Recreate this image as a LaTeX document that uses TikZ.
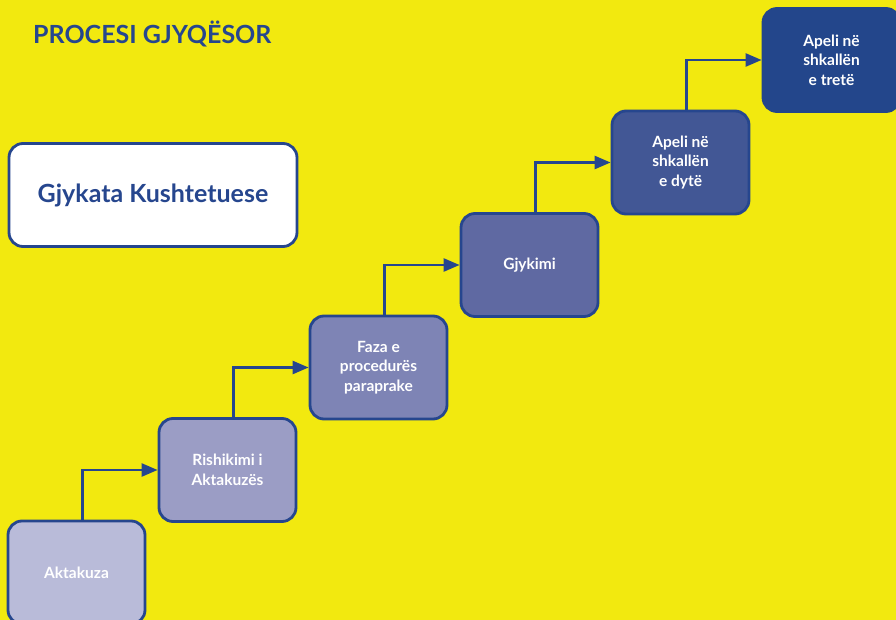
\documentclass[tikz,border=0pt]{standalone}
\usepackage{fontspec}
\setmainfont{Lato}
\usetikzlibrary{arrows.meta}
\definecolor{bgyellow}{HTML}{F2E90F}
\definecolor{darkblue}{HTML}{26468E}
\definecolor{stepa}{HTML}{B9BBD9}
\definecolor{stepb}{HTML}{9B9DC5}
\definecolor{stepc}{HTML}{7E84B5}
\definecolor{stepd}{HTML}{5F69A2}
\definecolor{stepe}{HTML}{425795}
\definecolor{stepf}{HTML}{23468B}
\tikzset{
  stagebox/.style={draw=darkblue,line width=2.8pt,rounded corners=14pt,
    minimum width=137pt,minimum height=103pt,align=center,
    text=white,font=\bfseries\fontsize{15.5}{19.5}\selectfont},
  flow/.style={draw=darkblue,line width=2.5pt,
    -{Triangle[length=16pt,width=13pt]}}
}
\begin{document}
\begin{tikzpicture}[x=1pt,y=-1pt]
\pgfmathsetmacro{\dx}{151}
\pgfmathsetmacro{\dy}{102.5}
\useasboundingbox (0,0) rectangle (896,620);
\clip (0,0) rectangle (896,620);
\fill[bgyellow](0,0)rectangle(896,620);
\node[anchor=base west,inner sep=0pt,text=darkblue,font=\bfseries\fontsize{25}{30}\selectfont]
  (title) at (33,44) {PROCESI GJYQËSOR};
\node[stagebox,fill=white,text=darkblue,minimum width=288pt,
  font=\bfseries\fontsize{25}{30}\selectfont] (gjykata) at (153,195) {Gjykata Kushtetuese};
\node[stagebox,fill=stepa] (aktakuza) at (76.5,572.5) {Aktakuza};
\node[stagebox,fill=stepb] (rishikimi) at (76.5+\dx,572.5-\dy) {Rishikimi i\\Aktakuzës};
\node[stagebox,fill=stepc] (faza) at (76.5+2*\dx,572.5-2*\dy) {Faza e\\procedurës\\paraprake};
\node[stagebox,fill=stepd] (gjykimi) at (76.5+3*\dx,572.5-3*\dy) {Gjykimi};
\node[stagebox,fill=stepe] (apelidyte) at (76.5+4*\dx,572.5-4*\dy) {Apeli në\\shkallën\\e dytë};
\node[stagebox,fill=stepf,draw=stepf] (apelitrete) at (76.5+5*\dx,572.5-5*\dy) {Apeli në\\shkallën\\e tretë};
\draw[flow]([xshift=6pt]aktakuza.north)|-(rishikimi.west);
\draw[flow]([xshift=6pt]rishikimi.north)|-(faza.west);
\draw[flow]([xshift=6pt]faza.north)|-(gjykimi.west);
\draw[flow]([xshift=6pt]gjykimi.north)|-(apelidyte.west);
\draw[flow]([xshift=6pt]apelidyte.north)|-(apelitrete.west);
\end{tikzpicture}
\end{document}
